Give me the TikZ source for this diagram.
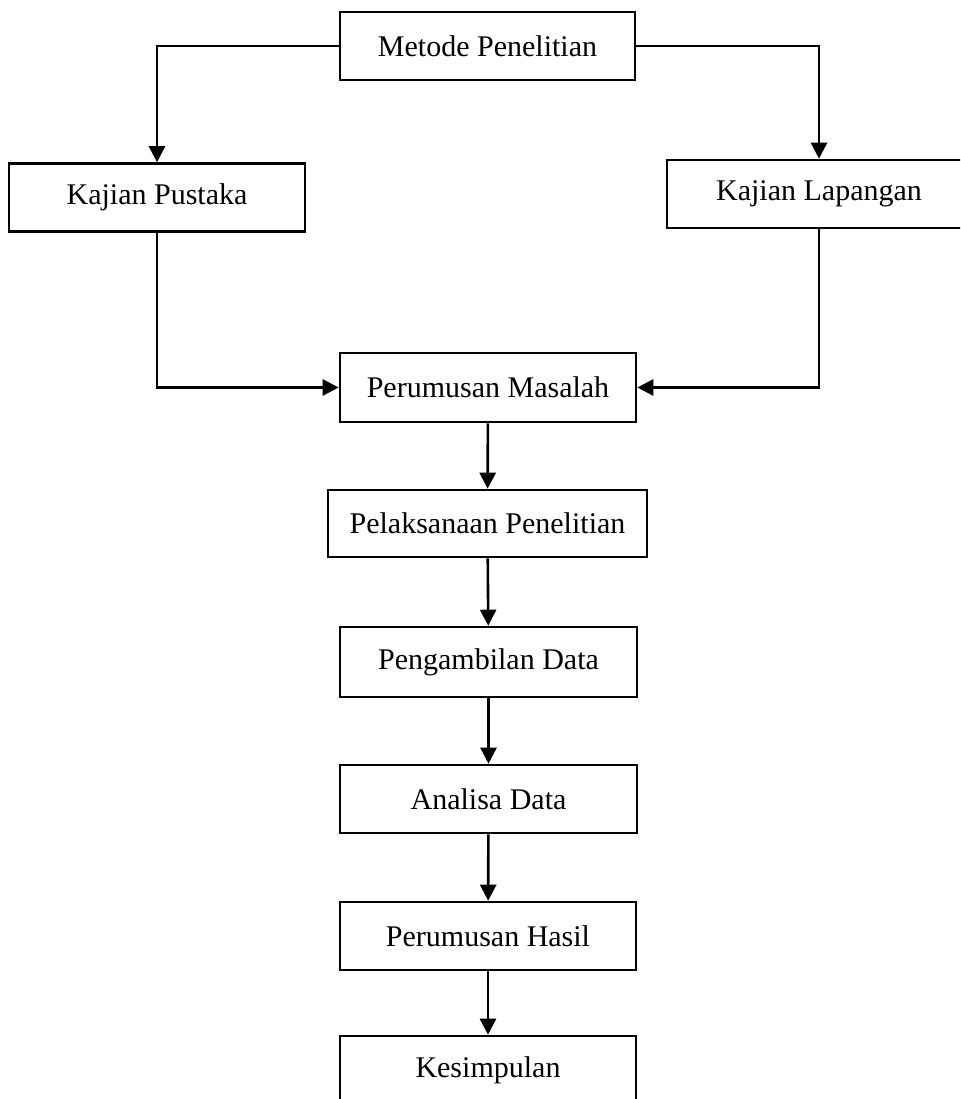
\documentclass[tikz,border=0pt]{standalone}
\usepackage{fontspec}
\setmainfont{Liberation Serif}
\usetikzlibrary{arrows.meta}

\tikzset{
  box/.style={draw, line width=2.6pt, minimum height=68pt, inner sep=0pt,
    font=\fontsize{30}{36}\selectfont},
  flow/.style={line width=2.6pt, -{Triangle[width=16pt, length=16pt]}}
}

\begin{document}
\begin{tikzpicture}[x=1pt, y=-1pt]
  % Page frame (the scan is cut off at the right and bottom)
  \useasboundingbox (0, 0) rectangle (960, 1099);
  \clip (0, 0) rectangle (960, 1099);

  % Boxes
  \node [box, minimum width=295pt] (metode) at (487.5, 46) {Metode Penelitian};
  \node [box, minimum width=296pt] (pustaka) at (157, 197.5) {Kajian Pustaka};
  \node [box, minimum width=304pt] (lapangan) at (819, 194) {Kajian Lapangan};
  \node [box, minimum width=296pt, minimum height=69pt] (masalah) at (488, 387.5) {Perumusan Masalah};
  \node [box, minimum width=319pt, minimum height=67pt] (pelaksanaan) at (487.5, 523.5) {Pelaksanaan Penelitian};
  \node [box, minimum width=297pt, minimum height=70pt] (pengambilan) at (488.5, 662) {Pengambilan Data};
  \node [box, minimum width=297pt] (analisa) at (488.5, 799) {Analisa Data};
  \node [box, minimum width=296pt] (hasil) at (488, 936) {Perumusan Hasil};
  \node [box, minimum width=296pt] (kesimpulan) at (488, 1070) {Kesimpulan};

  % Branches from the method
  \draw [flow] (metode.west) -| (pustaka.north);
  \draw [flow] (metode.east) -| (lapangan.north);

  % Both studies feed the problem statement
  \draw [flow] (pustaka.south) |- (masalah.west);
  \draw [flow] (lapangan.south) |- (masalah.east);

  % Main sequence
  \draw [flow] (masalah) -- (pelaksanaan);
  \draw [flow] (pelaksanaan) -- (pengambilan);
  \draw [flow] (pengambilan) -- (analisa);
  \draw [flow] (analisa) -- (hasil);
  \draw [flow] (hasil) -- (kesimpulan);
\end{tikzpicture}
\end{document}
